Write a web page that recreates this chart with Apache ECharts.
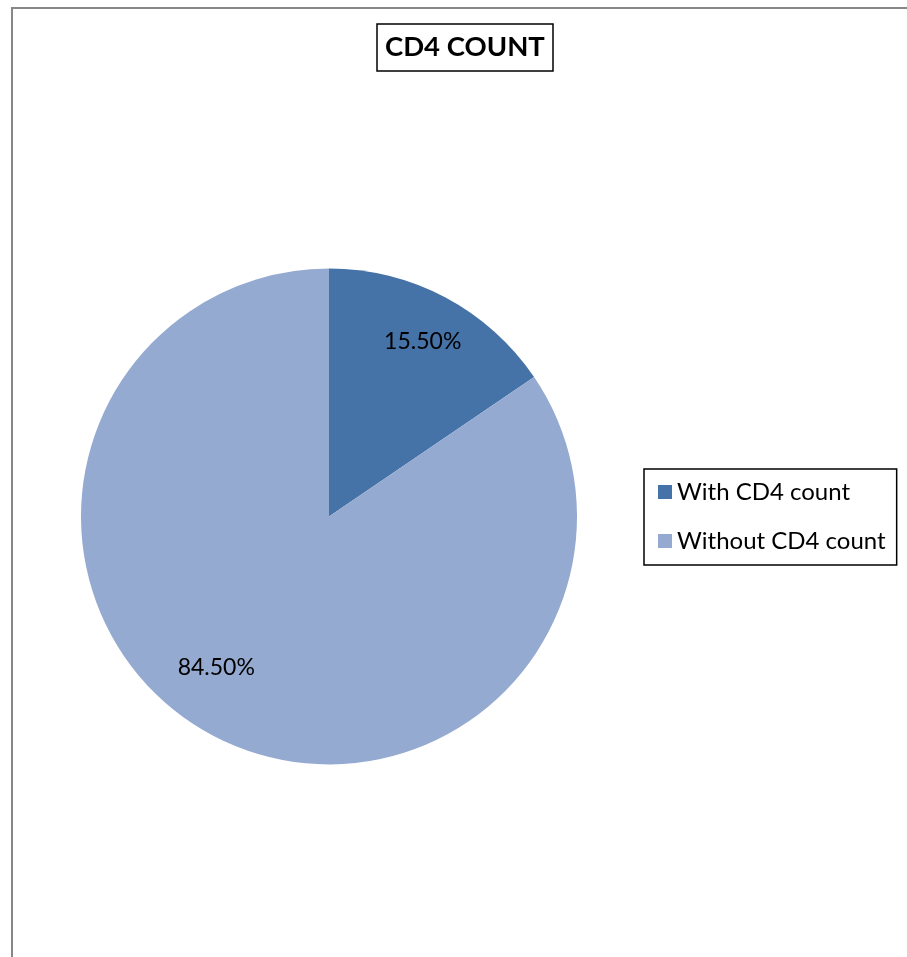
<!DOCTYPE html>
<html>
<head>
<meta charset="utf-8">
<title>CD4 COUNT</title>
<script src="https://cdn.jsdelivr.net/npm/echarts@6/dist/echarts.min.js"></script>
<style>
  html, body { margin: 0; padding: 0; background: #fff; overflow: hidden; }
  #frame {
    position: absolute; left: 11px; top: 7px; width: 1000px; height: 1100px;
    border: 2px solid #878787; box-sizing: border-box;
  }
  #chart { position: absolute; left: 0; top: 0; width: 907px; height: 957px; }
</style>
</head>
<body>
<div id="frame"></div>
<div id="chart"></div>
<script>
// Share of patients with / without a CD4 count (percent)
const categories = ['With CD4 count', 'Without CD4 count'];
const shares = [15.5, 84.5];
const sliceColors = ['#4572A7', '#95AAD0'];

const chart = echarts.init(document.getElementById('chart'), null, { renderer: 'canvas' });

const sliceData = categories.map((name, i) => ({
  name: name,
  value: shares[i],
  itemStyle: { color: sliceColors[i] }
}));

const FONT = 'Lato, "Open Sans", sans-serif';

// nudges for the percentage labels, per slice
const labelNudge = [[2, -2], [-21, -22]];

chart.setOption({
  animation: false,
  title: {
    text: 'CD4 COUNT',
    left: 377,
    top: 24,
    padding: [9, 8, 9, 8],
    borderColor: '#000',
    borderWidth: 1.5,
    textStyle: {
      fontFamily: FONT,
      fontWeight: 'bold',
      fontSize: 27.5,
      color: '#000',
      lineHeight: 29
    }
  },
  legend: {
    orient: 'vertical',
    left: 644,
    top: 469,
    padding: [11, 11, 12, 14],
    borderColor: '#000',
    borderWidth: 1.5,
    icon: 'rect',
    itemWidth: 14,
    itemHeight: 14,
    itemGap: 25,
    itemTextGap: 13,
    data: categories,
    textStyle: {
      fontFamily: FONT,
      fontSize: 24,
      lineHeight: 24,
      color: '#000'
    }
  },
  series: [
    {
      type: 'pie',
      center: [329, 516.5],
      radius: [0, 248],
      startAngle: 90,
      clockwise: true,
      silent: true,
      label: { show: false },
      labelLine: { show: false },
      itemStyle: { borderWidth: 0 },
      data: sliceData
    },
    {
      // transparent copy used only to place the percentage labels
      type: 'pie',
      center: [329, 516.5],
      radius: [0, 386],
      startAngle: 90,
      clockwise: true,
      silent: true,
      itemStyle: { color: 'rgba(0,0,0,0)', borderWidth: 0 },
      label: {
        show: true,
        position: 'inside',
        formatter: p => p.value.toFixed(2) + '%',
        fontFamily: FONT,
        fontSize: 23,
        color: '#000'
      },
      labelLayout: p => ({ dx: labelNudge[p.dataIndex][0], dy: labelNudge[p.dataIndex][1] }),
      labelLine: { show: false },
      data: categories.map((name, i) => ({ name: name + ' ', value: shares[i] }))
    }
  ]
});
</script>
</body>
</html>
